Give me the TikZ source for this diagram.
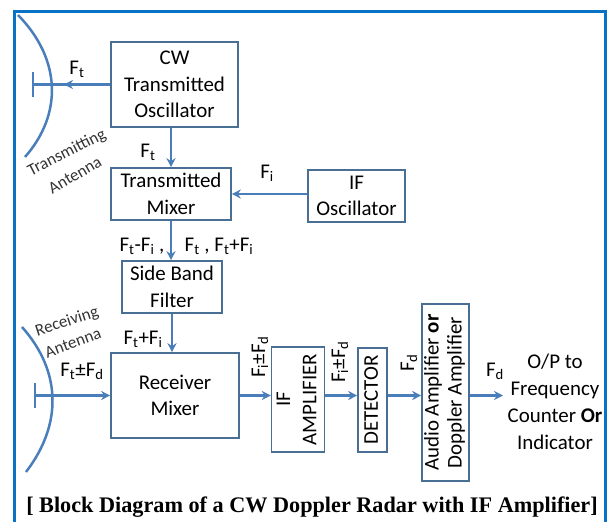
\documentclass[tikz,border=0pt]{standalone}
\usepackage{fontspec}
\setmainfont{Carlito}
\newfontfamily\capfont{Liberation Serif}
\usepackage{graphicx}
\usetikzlibrary{arrows.meta,positioning}

\definecolor{boxline}{HTML}{4A6F94}
\definecolor{wire}{HTML}{4A7EBB}
\definecolor{frameblue}{HTML}{0A72C4}

\newcommand{\Fq}[1]{F\textsubscript{#1}}
\newcommand{\vtext}[1]{\rotatebox{90}{\begin{tabular}{@{}c@{}}#1\end{tabular}}}

\begin{document}
\begin{tikzpicture}[x=1bp,y=-1bp,
  box/.style={draw=boxline,line width=1.6bp,align=center,inner sep=0pt,font=\fontsize{21}{26.5}\selectfont},
  arr/.style={wire,line width=2.2bp,-{Stealth[length=9bp,width=9bp]}},
  feed/.style={wire,line width=2.2bp},
  dish/.style={wire,line width=2.5bp},
  lbl/.style={font=\fontsize{21}{24}\selectfont,inner sep=0pt},
  antlbl/.style={font=\fontsize{17}{20}\selectfont,inner sep=0pt,text=black!80}
]
\useasboundingbox (0,0) rectangle (613,522);
\begin{scope}
  \clip (0,0) rectangle (613,522);
  \draw[frameblue,line width=3bp] (14,540) -- (14,12) -- (605,12) -- (605,540);
\end{scope}

\node[box,minimum width=127bp,minimum height=85bp] (cw) at (174.5,84.5) {CW\\Transmitted\\Oscillator};
\node[box,minimum width=120bp,minimum height=52bp] (txmix) at (171,194) {Transmitted\\Mixer};
\node[box,minimum width=97bp,minimum height=52bp] (ifosc) at (356.5,196) {IF\\Oscillator};
\node[box,minimum width=100bp,minimum height=52bp] (sbf) at (172,287) {Side Band\\Filter};
\node[box,minimum width=128bp,minimum height=85bp] (rxmix) at (175,395.5) {Receiver\\Mixer};
\node[box,minimum width=46bp,minimum height=105bp] (ifamp) at (298,399.5) {\vtext{IF\\AMPLIFIER}};
\node[box,minimum width=29bp,minimum height=104bp] (det) at (372.5,400) {\vtext{DETECTOR}};
\node[box,minimum width=47bp,minimum height=177bp,font=\fontsize{21}{23}\selectfont] (audio) at (445.5,392.5) {\vtext{Audio Amplifier \textbf{or}\\Doppler Amplifier}};

% antennas
\draw[dish] (18,15) .. controls (62,60) and (62,115) .. (25,157);
\draw[dish] (22,327) .. controls (62,372) and (62,425) .. (26,472);
\coordinate (txtick) at (33,84.5);
\coordinate (txtip) at (64,84.5);
\coordinate (rxtick) at (35,395.5);
\coordinate (outtip) at (503,395.5);
\draw[feed] (txtick) ++(0,-12.5) -- ++(0,25);
\draw[feed] (rxtick) ++(0,-12.5) -- ++(0,25);

\draw[feed] (cw.west) -- (txtick);
\draw[arr] (cw.west) -- (txtip);
\draw[arr] (cw.south -| txmix.north) -- (txmix.north);
\draw[arr] (ifosc.west |- txmix.east) -- (txmix.east);
\draw[arr] (txmix.south) -- (txmix.south |- sbf.north);
\draw[arr] (sbf.south) -- (sbf.south |- rxmix.north);
\draw[arr] (rxtick) -- (rxmix.west |- rxtick);
\draw[arr] (rxmix.east) -- (rxmix.east -| ifamp.west);
\draw[arr] (ifamp.east |- rxmix.east) -- (rxmix.east -| det.west);
\draw[arr] (det.east |- rxmix.east) -- (rxmix.east -| audio.west);
\draw[arr] (audio.east |- rxmix.east) -- (outtip);

\node[lbl] (ft1) at (77,69) {\Fq{t}};
\node[lbl] (ft2) at (148,152) {\Fq{t}};
\node[lbl] (fi) at (267,173) {\Fq{i}};
\node[lbl] (fdiff) at (142,246) {\Fq{t}-\Fq{i} ,};
\node[lbl] (fsum) at (219,246) {\Fq{t} , \Fq{t}+\Fq{i}};
\node[lbl] (fsb) at (143,339) {\Fq{t}+\Fq{i}};
\node[lbl] (fecho) at (82,371) {\Fq{t}±\Fq{d}};
\node[lbl,rotate=90] (fif1) at (260,357) {\Fq{i}±\Fq{d}};
\node[lbl,rotate=90] (fif2) at (340,362) {\Fq{i}±\Fq{d}};
\node[lbl,rotate=90] (fd1) at (409,363) {\Fq{d}};
\node[lbl] (fd2) at (495,371) {\Fq{d}};
\node[lbl,align=center,font=\fontsize{21}{27}\selectfont] (out) at (555,402) {O/P to\\Frequency\\Counter \textbf{Or}\\Indicator};

\node[antlbl,rotate=27] (txant1) at (67,153) {Transmitting};
\node[antlbl,rotate=30] (txant2) at (75,175) {Antenna};
\node[antlbl,rotate=18] (rxant1) at (67,322) {Receiving};
\node[antlbl,rotate=20] (rxant2) at (73,343) {Antenna};

\node[font=\capfont\bfseries\fontsize{22.3}{24}\selectfont] (cap) at (312,507) {[ Block Diagram of a CW Doppler Radar with IF Amplifier]};
\end{tikzpicture}
\end{document}
